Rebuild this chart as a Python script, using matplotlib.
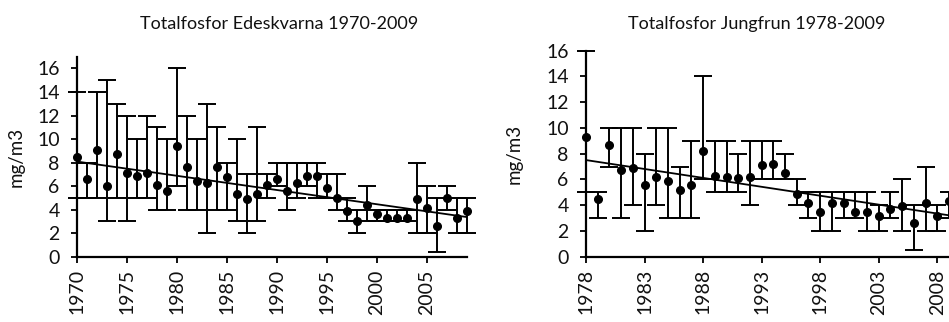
import matplotlib
matplotlib.use("Agg")
import matplotlib.pyplot as plt
import numpy as np

# Totalfosfor Edeskvarna 1970-2009 (medel, min, max, mg/m3)
years_e = list(range(1970, 2010))
mean_e = [8.5, 6.6, 9.1, 6.0, 8.7, 7.1, 6.9, 7.1, 6.1, 5.6,
          9.4, 7.6, 6.4, 6.3, 7.6, 6.8, 5.3, 4.9, 5.3, 6.1,
          6.6, 5.6, 6.3, 6.9, 6.9, 5.8, 5.0, 3.9, 3.0, 4.4,
          3.6, 3.3, 3.3, 3.3, 4.9, 4.1, 2.6, 5.0, 3.3, 3.9]
max_e = [14, 8, 14, 15, 13, 12, 10, 12, 11, 10,
         16, 12, 10, 13, 11, 8, 10, 7, 11, 7,
         8, 8, 8, 8, 8, 7, 7, 5, 4, 6,
         4, 4, 4, 4, 8, 6, 5, 6, 5, 5]
min_e = [5, 5, 5, 3, 5, 3, 5, 5, 4, 4,
         6, 4, 4, 2, 4, 4, 3, 2, 3, 5,
         6, 4, 5, 6, 5, 5, 4, 3, 2, 3,
         3, 3, 3, 3, 2, 2, 0.4, 4, 2, 2]

# Totalfosfor Jungfrun 1978-2009
years_j = list(range(1978, 2010))
mean_j = [9.3, 4.5, 8.7, 6.7, 6.9, 5.6, 6.2, 5.9, 5.2, 5.6,
          8.2, 6.3, 6.2, 6.1, 6.2, 7.1, 7.2, 6.5, 4.9, 4.2,
          3.5, 4.2, 4.2, 3.5, 3.5, 3.2, 3.7, 3.9, 2.6, 4.2,
          3.2, 4.3]
max_j = [16, 5, 10, 10, 10, 8, 10, 10, 7, 9,
         14, 9, 9, 8, 9, 9, 9, 8, 6, 5,
         5, 5, 5, 5, 5, 4, 5, 6, 4, 7,
         4, 5]
min_j = [5, 3, 7, 3, 4, 2, 4, 3, 3, 3,
         6, 5, 5, 5, 4, 6, 6, 6, 4, 3,
         2, 2, 3, 3, 2, 2, 3, 2, 0.5, 2,
         2, 3]

ticks_e = [1970, 1975, 1980, 1985, 1990, 1995, 2000, 2005]
ticks_j = [1978, 1983, 1988, 1993, 1998, 2003, 2008]

plt.rcParams['font.family'] = ['Lato', 'DejaVu Sans']

W, H = 949, 322
fig = plt.figure(figsize=(W / 100, H / 100), dpi=100)


def draw_panel(ax, years, mean, lo, hi, xlim, ylim, xticks):
    x = np.array(years, dtype=float)
    m = np.array(mean, dtype=float)
    yerr = [m - np.array(lo), np.array(hi) - m]
    ax.errorbar(x, m, yerr=yerr, fmt='o', color='black', ms=5.5,
                elinewidth=1.4, capsize=6.5, capthick=1.4, clip_on=False, zorder=3)
    # linjär trendlinje
    k, b = np.polyfit(x, m, 1)
    xt = np.array([x[0], x[-1]])
    ax.plot(xt, k * xt + b, color='black', lw=1.3, zorder=2)
    ax.set_xlim(*xlim)
    ax.set_ylim(*ylim)
    ax.set_yticks(range(0, 17, 2))
    ax.set_xticks(xticks)
    ax.set_xticklabels([str(t) for t in xticks], rotation=90)
    for s in ['top', 'right']:
        ax.spines[s].set_visible(False)
    for s in ['left', 'bottom']:
        ax.spines[s].set_linewidth(1.6)
    ax.tick_params(direction='out', length=4.5, width=1.4, labelsize=14, colors='#111111')
    ax.tick_params(axis='x', pad=4.5)
    ax.tick_params(axis='y', pad=8)
    ax.set_ylabel('mg/m3', fontsize=13.5, color='#111111')


# vänster panel
ax1 = fig.add_axes([77 / W, 1 - 256.7 / H, 390 / W, 200 / H])
draw_panel(ax1, years_e, mean_e, min_e, max_e, (1970, 2009), (0, 17), ticks_e)
ax1.yaxis.set_label_coords(-0.135, 0.5)

# höger panel (beskuren i högerkanten som originalet)
ax2 = fig.add_axes([586 / W, 1 - 256.7 / H, 374.7 / W, 206 / H])
draw_panel(ax2, years_j, mean_j, min_j, max_j, (1978, 2010), (0, 16), ticks_j)
ax2.yaxis.set_label_coords(-0.17, 0.5)

fig.text(279 / W, 1 - 24 / H, 'Totalfosfor Edeskvarna 1970-2009', ha='center', va='center',
         fontsize=13, color='#111111')
fig.text(757 / W, 1 - 24 / H, 'Totalfosfor Jungfrun 1978-2009', ha='center', va='center',
         fontsize=13, color='#111111')

fig.savefig('out.png', dpi=100)
